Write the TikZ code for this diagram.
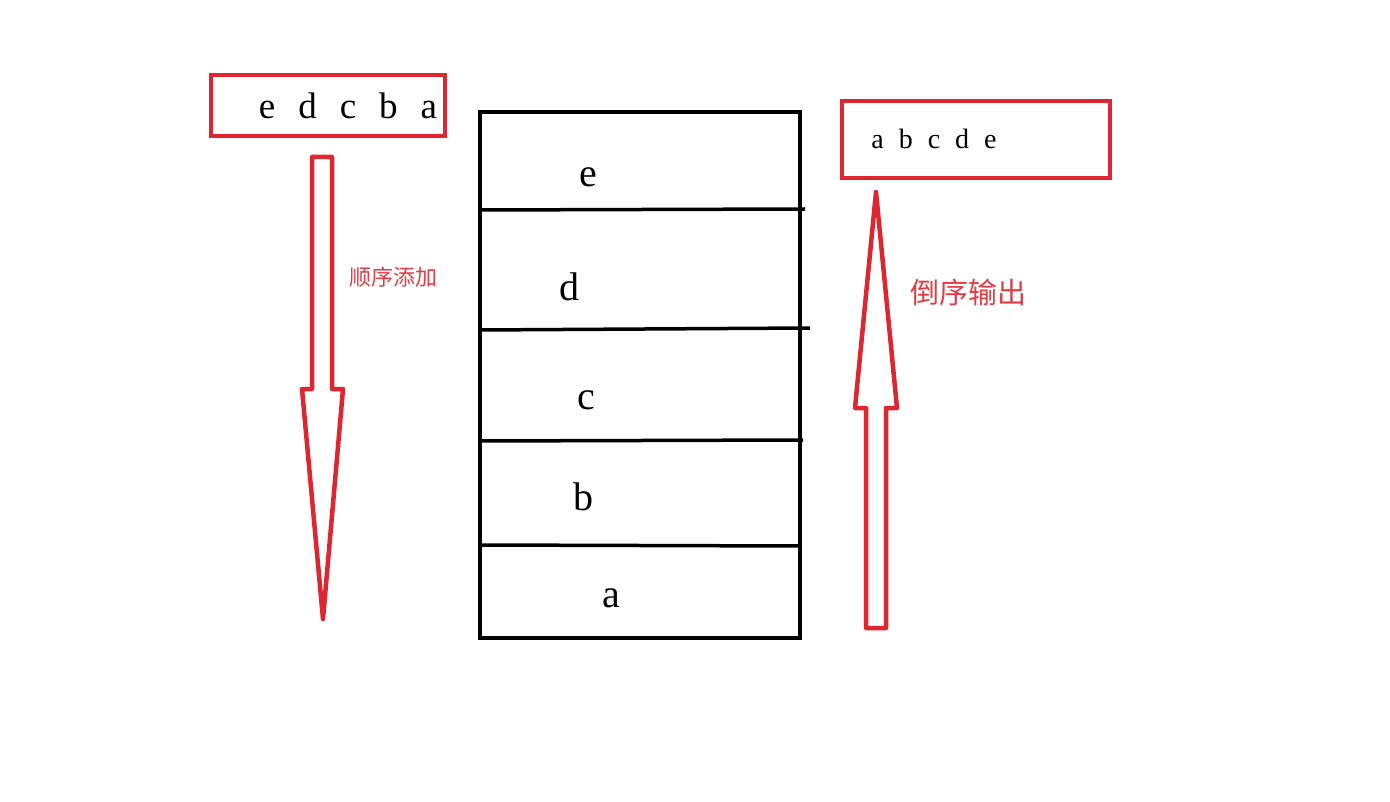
\documentclass[tikz,border=0pt]{standalone}
\usepackage{fontspec}
\setmainfont{Liberation Serif}
\newfontfamily\cjk{Noto Sans CJK SC}
\definecolor{boxred}{RGB}{222,38,48}
\definecolor{labred}{RGB}{226,60,70}
\tikzset{
  redbox/.style={draw=boxred, line width=4.5pt, line join=miter},
  redarrow/.style={draw=boxred, line width=4.5pt, line join=round},
  blackline/.style={draw=black, line width=3.5pt},
  letter/.style={font=\fontsize{40}{44}\selectfont, text=black, inner sep=0pt},
  cnlabel/.style={text=labred, inner sep=0pt},
}
\begin{document}
\begin{tikzpicture}[x=1pt,y=-1pt]
\useasboundingbox[fill=white] (0,0) rectangle (1390,802);
% left box
\node[redbox, minimum width=234pt, minimum height=61pt, inner sep=0pt] (lbox) at (328,105.5) {};
\node[inner sep=0pt, font=\fontsize{37}{40}\selectfont] (ltext) at (348,106) {e\hspace{23pt}d\hspace{23pt}c\hspace{23pt}b\hspace{23pt}a};
% right box
\node[redbox, minimum width=268pt, minimum height=77pt, inner sep=0pt] (rbox) at (976,139.5) {};
\node[inner sep=0pt, font=\fontsize{28}{30}\selectfont] (rtext) at (934,139) {a\hspace{15pt}b\hspace{15pt}c\hspace{15pt}d\hspace{15pt}e};
% stack
\node[blackline, minimum width=320pt, minimum height=526pt, inner sep=0pt] (stack) at (640,375) {};
\coordinate (l1a) at (480,210); \coordinate (l1b) at (805,209);
\coordinate (l2a) at (480,330); \coordinate (l2b) at (810,328);
\coordinate (l3a) at (480,441); \coordinate (l3b) at (803,440);
\coordinate (l4a) at (480,545); \coordinate (l4b) at (800,546);
\draw[blackline] (l1a) -- (l1b);
\draw[blackline] (l2a) -- (l2b);
\draw[blackline] (l3a) -- (l3b);
\draw[blackline] (l4a) -- (l4b);
\node[letter] (le) at (588,177) {e};
\node[letter] (ld) at (569,287) {d};
\node[letter] (lc) at (586,400) {c};
\node[letter] (lb) at (583,497) {b};
\node[letter] (la) at (611,598) {a};
% left arrow (down)
\draw[redarrow] (312,157) -- (332,157) -- (332,389) -- (343,389) -- (323,619) -- (302,389) -- (312,389) -- cycle;
\node[cnlabel, font=\cjk\fontsize{22}{24}\selectfont] (addlab) at (393,277) {顺序添加};
% right arrow (up)
\draw[redarrow] (876,192) -- (897,408) -- (886,408) -- (886,628) -- (866,628) -- (866,408) -- (855,408) -- cycle;
\node[cnlabel, font=\cjk\fontsize{29}{31}\selectfont] (outlab) at (968,292) {倒序输出};
\end{tikzpicture}
\end{document}
